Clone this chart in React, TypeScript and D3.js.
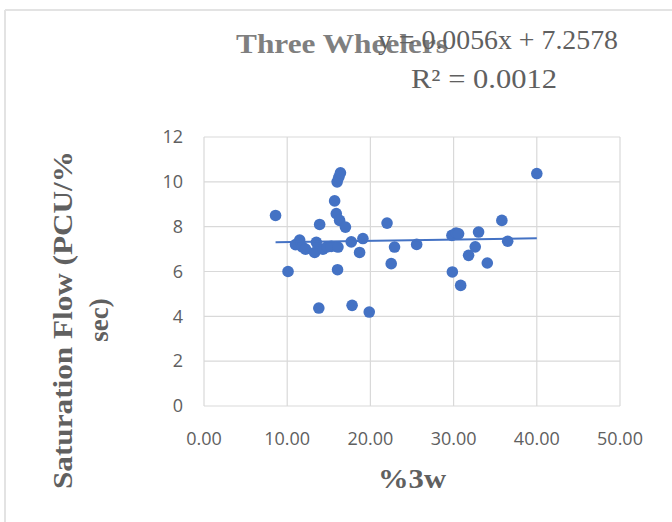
import React from "react";
import * as d3 from "d3";

// Share of three wheelers (%) against measured saturation flow
const pct3w: number[] = [
  8.6, 10.1, 11.0, 11.5, 11.8, 12.2, 13.3, 13.5, 13.9, 13.8,
  14.3, 14.8, 15.3, 16.1, 16.05, 15.7, 15.9, 16.3, 16.0, 16.2,
  16.4, 17.0, 17.7, 17.8, 19.1, 18.7, 19.86, 22.0, 22.5, 22.9,
  25.56, 29.8, 30.3, 30.6, 29.85, 30.85, 31.8, 32.6, 33.0, 34.05,
  35.8, 36.5, 40.0,
];
const satFlow: number[] = [
  8.5, 6.0, 7.2, 7.4, 7.1, 7.0, 6.85, 7.3, 8.1, 4.37,
  7.0, 7.1, 7.12, 7.09, 6.08, 9.15, 8.58, 8.28, 10.0, 10.2,
  10.4, 7.98, 7.32, 4.49, 7.47, 6.85, 4.19, 8.16, 6.35, 7.09,
  7.21, 7.61, 7.72, 7.68, 5.98, 5.38, 6.72, 7.1, 7.76, 6.38,
  8.28, 7.35, 10.37,
];

const xTicks: number[] = [0, 10, 20, 30, 40, 50];
const yTicks: number[] = [0, 2, 4, 6, 8, 10, 12];

// Linear trendline y = slope·x + intercept
const slope = 0.0056;
const intercept = 7.2578;
const rSquared = 0.0012;

const W = 672;
const H = 522;
const plot = { left: 204, right: 620, top: 137, bottom: 406 };

const serif = "Liberation Serif, Times New Roman, serif";
const sans = "Open Sans, Noto Sans, sans-serif";

export default function App() {
  const x = d3.scaleLinear().domain([0, 50]).range([plot.left, plot.right]);
  const y = d3.scaleLinear().domain([0, 12]).range([plot.bottom, plot.top]);

  const xMin = d3.min(pct3w) as number;
  const xMax = d3.max(pct3w) as number;
  const trend = d3
    .line<number>()
    .x((d) => x(d))
    .y((d) => y(slope * d + intercept))([xMin, xMax]);

  const grid = "#d9d9d9";
  const tickColor = "#606060";
  const titleColor = "#7f7f7f";

  return (
    <svg
      width={W}
      height={H}
      style={{ position: "absolute", left: 0, top: 0, background: "#fff" }}
    >
      {/* chart frame edges */}
      <line x1={5} y1={10} x2={W} y2={10} stroke="#e3e3e3" strokeWidth={2} />
      <line x1={5} y1={10} x2={5} y2={H} stroke="#e3e3e3" strokeWidth={2} />

      {/* gridlines */}
      {yTicks.map((t) => (
        <line
          key={"gy" + t}
          x1={plot.left}
          x2={plot.right}
          y1={y(t)}
          y2={y(t)}
          stroke={grid}
          strokeWidth={1.2}
        />
      ))}
      {xTicks.map((t) => (
        <line
          key={"gx" + t}
          x1={x(t)}
          x2={x(t)}
          y1={plot.top}
          y2={plot.bottom}
          stroke={grid}
          strokeWidth={1.2}
        />
      ))}

      {/* tick labels */}
      {yTicks.map((t) => (
        <text
          key={"ty" + t}
          x={plot.left - 21}
          y={y(t)}
          dy="0.35em"
          textAnchor="end"
          fontFamily={sans}
          fontSize={18}
          fill={tickColor}
        >
          {t}
        </text>
      ))}
      {xTicks.map((t) => (
        <text
          key={"tx" + t}
          x={x(t)}
          y={plot.bottom + 39}
          textAnchor="middle"
          fontFamily={sans}
          fontSize={18}
          fill={tickColor}
        >
          {t.toFixed(2)}
        </text>
      ))}

      {/* points */}
      {pct3w.map((v, i) => (
        <circle key={"p" + i} cx={x(v)} cy={y(satFlow[i])} r={5.8} fill="#4472c4" />
      ))}

      {/* trendline */}
      <path d={trend ?? ""} stroke="#4472c4" strokeWidth={2} fill="none" />

      {/* title */}
      <text
        x={342}
        y={53}
        textAnchor="middle"
        fontFamily={serif}
        fontWeight="bold"
        fontSize={27}
        fill={titleColor}
        textLength={212}
        lengthAdjust="spacingAndGlyphs"
      >
        Three Wheelers
      </text>

      {/* trendline equation */}
      <text
        x={498}
        y={49}
        textAnchor="middle"
        fontFamily={serif}
        fontSize={27}
        fill={tickColor}
        textLength={240}
        lengthAdjust="spacingAndGlyphs"
      >
        {`y = ${slope.toFixed(4)}x + ${intercept.toFixed(4)}`}
      </text>
      <text
        x={484}
        y={88}
        textAnchor="middle"
        fontFamily={serif}
        fontSize={27}
        fill={tickColor}
        textLength={146}
        lengthAdjust="spacingAndGlyphs"
      >
        {`R² = ${rSquared.toFixed(4)}`}
      </text>

      {/* axis titles */}
      <text
        x={412}
        y={488}
        textAnchor="middle"
        fontFamily={serif}
        fontWeight="bold"
        fontSize={27}
        fill={tickColor}
        textLength={68}
        lengthAdjust="spacingAndGlyphs"
      >
        %3w
      </text>
      <g transform="translate(72,320) rotate(-90)">
        <text
          x={0}
          y={0}
          textAnchor="middle"
          fontFamily={serif}
          fontWeight="bold"
          fontSize={27}
          fill={tickColor}
          textLength={338}
          lengthAdjust="spacingAndGlyphs"
        >
          Saturation Flow (PCU/%
        </text>
        <text
          x={0}
          y={36}
          textAnchor="middle"
          fontFamily={serif}
          fontWeight="bold"
          fontSize={27}
          fill={tickColor}
        >
          sec)
        </text>
      </g>
    </svg>
  );
}
